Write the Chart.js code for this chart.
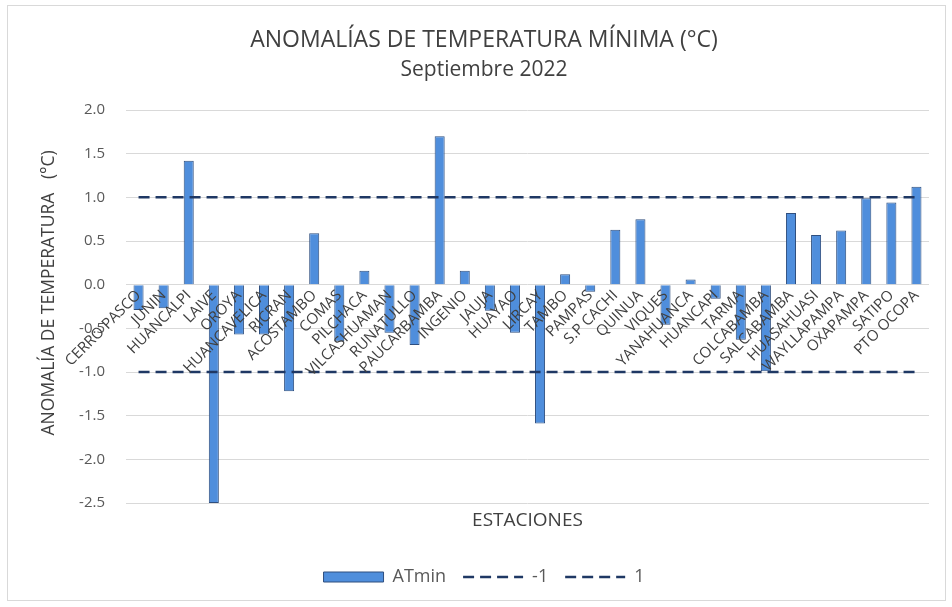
<!DOCTYPE html>
<html>
<head>
<meta charset="utf-8">
<script src="https://cdn.jsdelivr.net/npm/chart.js@4.4.1/dist/chart.umd.min.js"></script>
<style>
html,body{margin:0;padding:0;background:#fff;}
#wrap{position:relative;width:952px;height:607px;}
#frame{position:absolute;left:7px;top:5px;width:937px;height:594px;border:1px solid #d9d9d9;pointer-events:none;}
canvas{position:absolute;left:0;top:0;}
</style>
</head>
<body>
<div id="wrap"><canvas id="c" width="952" height="607"></canvas><div id="frame"></div></div>
<script>
const estaciones = ["CERRO PASCO","JUNIN","HUANCALPI","LAIVE","OROYA","HUANCAVELICA","RICRAN","ACOSTAMBO","COMAS","PILCHACA","VILCASHUAMAN","RUNATULLO","PAUCARBAMBA","INGENIO","JAUJA","HUAYAO","LIRCAY","TAMBO","PAMPAS","S.P CACHI","QUINUA","VIQUES","YANAHUANCA","HUANCAPI","TARMA","COLCABAMBA","SALCABAMBA","HUASAHUASI","WAYLLAPAMPA","OXAPAMPA","SATIPO","PTO OCOPA"];
const atmin = [-0.29,-0.27,1.42,-2.5,-0.57,-0.57,-1.22,0.59,-0.65,0.16,-0.55,-0.69,1.70,0.16,-0.30,-0.55,-1.59,0.12,-0.08,0.63,0.75,-0.46,0.06,-0.16,-0.63,-0.99,0.82,0.57,0.62,0.99,0.94,1.12];
const umbralMenos1 = [-1,-1,-1,-1,-1,-1,-1,-1,-1,-1,-1,-1,-1,-1,-1,-1,-1,-1,-1,-1,-1,-1,-1,-1,-1,-1,-1,-1,-1,-1,-1,-1];
const umbralMas1 = [1,1,1,1,1,1,1,1,1,1,1,1,1,1,1,1,1,1,1,1,1,1,1,1,1,1,1,1,1,1,1,1];
const yMin = -2.5, yMax = 2.0, yStep = 0.5;
const titulo = "ANOMALÍAS DE TEMPERATURA MÍNIMA (°C)";
const subtitulo = "Septiembre 2022";
const tituloY = "      ANOMALÍA DE TEMPERATURA   (°C)";
const tituloX = "ESTACIONES";

Chart.defaults.font.family = "'Open Sans', Lato, sans-serif";
Chart.defaults.color = "#595959";

new Chart(document.getElementById('c'), {
  type: 'bar',
  data: {
    labels: estaciones,
    datasets: [
      {
        type: 'bar', label: 'ATmin', data: atmin,
        backgroundColor: '#4F8EDC', borderColor: '#2F4F7F', borderWidth: 1,
        barPercentage: 0.4, categoryPercentage: 1.0, pointStyle: 'rect', order: 2
      },
      {
        type: 'line', label: '-1', data: umbralMenos1,
        borderColor: '#1F3864', backgroundColor: '#1F3864', borderWidth: 2.5,
        borderDash: [11, 6], pointRadius: 0, pointStyle: 'line', fill: false, order: 1
      },
      {
        type: 'line', label: '1', data: umbralMas1,
        borderColor: '#1F3864', backgroundColor: '#1F3864', borderWidth: 2.5,
        borderDash: [11, 6], pointRadius: 0, pointStyle: 'line', fill: false, order: 1
      }
    ]
  },
  options: {
    responsive: false,
    animation: false,
    devicePixelRatio: 1,
    layout: { padding: { left: 39, right: 23, top: 0, bottom: 11 } },
    plugins: {
      title: {
        display: true, text: titulo, color: '#404040',
        font: { size: 23, weight: 'normal' }, padding: { top: 26.2, bottom: 3.6 }
      },
      subtitle: {
        display: true, text: subtitulo, color: '#404040',
        font: { size: 21, weight: 'normal' }, padding: { top: 0, bottom: 27.4 }
      },
      legend: {
        position: 'bottom',
        labels: {
          usePointStyle: true, pointStyleWidth: 60, boxHeight: 10,
          padding: 17, color: '#595959', font: { size: 18 },
          sort: (a, b) => a.datasetIndex - b.datasetIndex,
          generateLabels: (chart) => {
            const items = Chart.defaults.plugins.legend.labels.generateLabels(chart);
            items.forEach(it => {
              const ds = chart.data.datasets[it.datasetIndex];
              if (ds.borderDash) it.lineDash = ds.borderDash;
            });
            return items;
          }
        }
      },
      tooltip: { enabled: false }
    },
    scales: {
      x: {
        type: 'category',
        position: { y: 0 },
        offset: true,
        grid: { display: false, drawTicks: false },
        border: { display: false },
        ticks: {
          z: 1,
          autoSkip: false, minRotation: 45, maxRotation: 45, padding: 2,
          color: '#404040', font: { size: 15 }
        },
        afterFit: (s) => { s.height = 0; }
      },
      x2: {
        type: 'category',
        position: 'bottom',
        offset: true,
        grid: { display: false, drawTicks: false },
        border: { display: false },
        ticks: { display: false },
        title: {
          display: true, text: tituloX, color: '#404040',
          font: { size: 19 }, padding: { top: 6.6, bottom: 18.6 }
        }
      },
      y: {
        min: yMin, max: yMax,
        grid: { color: '#d9d9d9', lineWidth: 1, drawTicks: false },
        border: { display: false },
        ticks: {
          stepSize: yStep, padding: 21, color: '#595959', font: { size: 15 },
          callback: (v) => Number(v).toFixed(1)
        },
        title: {
          display: true, text: tituloY, color: '#404040',
          font: { size: 17.5 }, padding: { top: 0, bottom: 0 }
        },
        afterFit: (s) => { s.width = 87; }
      }
    }
  }
});
</script>
</body>
</html>
